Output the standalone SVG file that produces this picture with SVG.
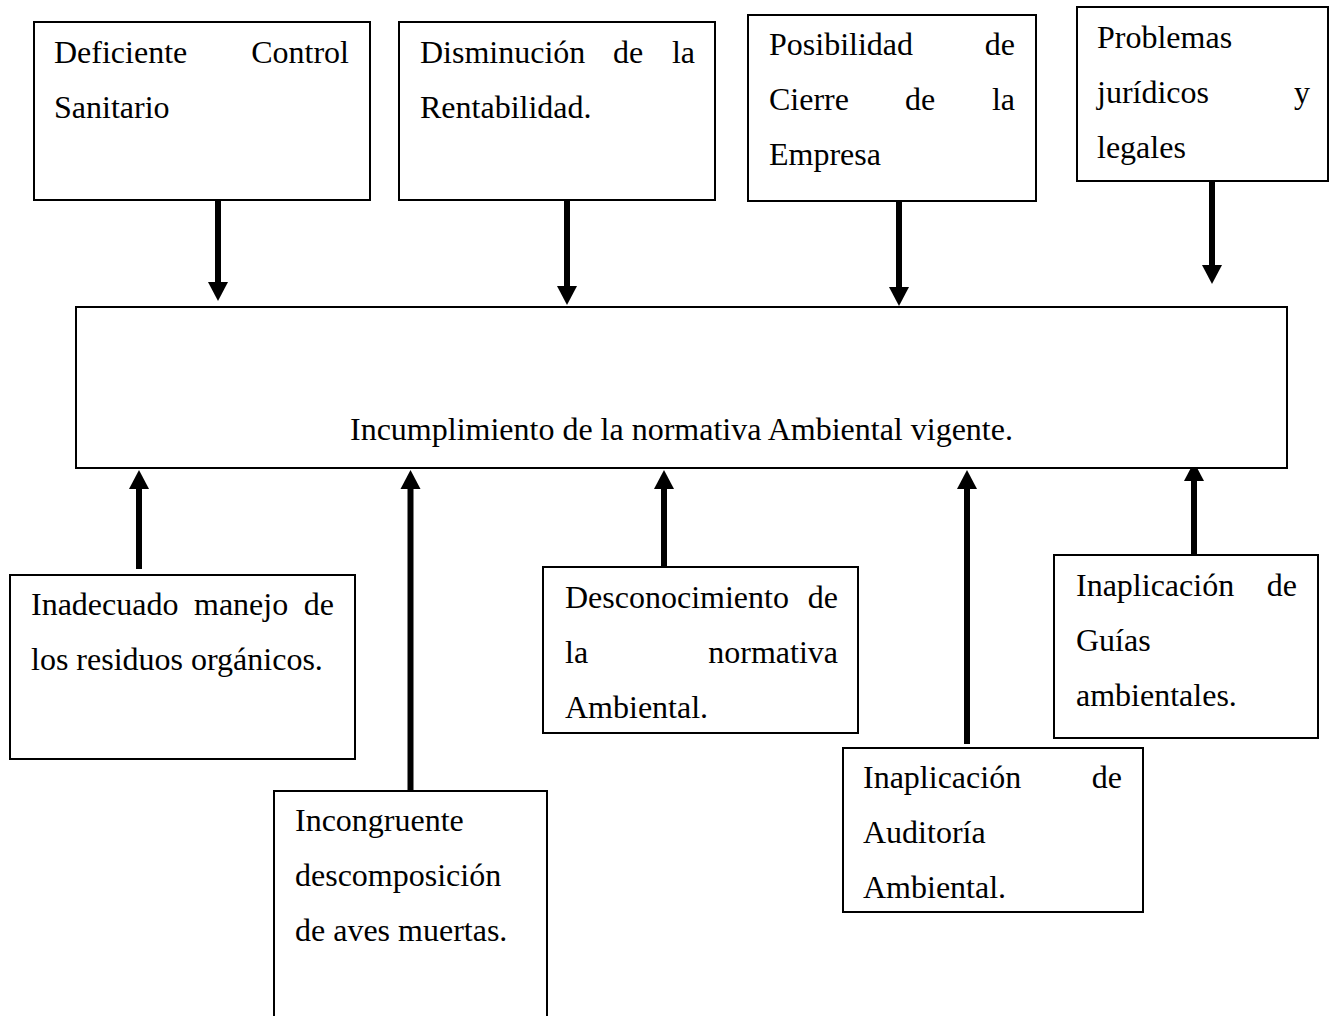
<svg xmlns="http://www.w3.org/2000/svg" width="1338" height="1016" viewBox="0 0 1338 1016">
<style>
.box{fill:#fff;stroke:#000;stroke-width:2}
.t{font-family:"Liberation Serif","Times New Roman",serif;font-size:32px;fill:#000}
.e{text-anchor:end}
.c{stroke:#000;stroke-width:6;fill:none}
</style>
<defs>
<marker id="ah" markerUnits="userSpaceOnUse" markerWidth="20" markerHeight="22" refX="0" refY="10" orient="auto" viewBox="0 0 20 20">
<path d="M0,0 L19,10 L0,20 Z" fill="#000"/>
</marker>
</defs>
<rect width="1338" height="1016" fill="#fff"/>
<g id="connectors">
<line class="c" x1="218" y1="200" x2="218" y2="282" marker-end="url(#ah)"/>
<line class="c" x1="567" y1="200" x2="567" y2="286" marker-end="url(#ah)"/>
<line class="c" x1="899" y1="201" x2="899" y2="287" marker-end="url(#ah)"/>
<line class="c" x1="1212" y1="181" x2="1212" y2="265" marker-end="url(#ah)"/>
<line class="c" x1="139" y1="569" x2="139" y2="489" marker-end="url(#ah)"/>
<line class="c" x1="410.5" y1="791" x2="410.5" y2="489" marker-end="url(#ah)"/>
<line class="c" x1="664" y1="567" x2="664" y2="489" marker-end="url(#ah)"/>
<line class="c" x1="967" y1="744" x2="967" y2="489" marker-end="url(#ah)"/>
<line class="c" x1="1194" y1="555" x2="1194" y2="481" marker-end="url(#ah)"/>
</g>
<g id="n1">
<rect class="box" x="34" y="22" width="336" height="178"/>
<text class="t" x="54" y="63">Deficiente</text><text class="t e" x="349" y="63">Control</text>
<text class="t" x="54" y="118">Sanitario</text>
</g>
<g id="n2">
<rect class="box" x="399" y="22" width="316" height="178"/>
<text class="t" x="420" y="63">Disminución</text><text class="t" x="613" y="63">de</text><text class="t e" x="695" y="63">la</text>
<text class="t" x="420" y="118">Rentabilidad.</text>
</g>
<g id="n3">
<rect class="box" x="748" y="15" width="288" height="186"/>
<text class="t" x="769" y="55">Posibilidad</text><text class="t e" x="1015" y="55">de</text>
<text class="t" x="769" y="110">Cierre</text><text class="t" x="905" y="110">de</text><text class="t e" x="1015" y="110">la</text>
<text class="t" x="769" y="165">Empresa</text>
</g>
<g id="n4">
<rect class="box" x="1077" y="7" width="251" height="174"/>
<text class="t" x="1097" y="48">Problemas</text>
<text class="t" x="1097" y="103">jurídicos</text><text class="t e" x="1310" y="103">y</text>
<text class="t" x="1097" y="158">legales</text>
</g>
<g id="main">
<rect class="box" x="76" y="307" width="1211" height="161"/>
<text class="t" x="350" y="440">Incumplimiento de la normativa Ambiental vigente.</text>
</g>
<g id="n5">
<rect class="box" x="10" y="575" width="345" height="184"/>
<text class="t" x="31" y="615">Inadecuado</text><text class="t" x="194" y="615">manejo</text><text class="t e" x="334" y="615">de</text>
<text class="t" x="31" y="670">los residuos orgánicos.</text>
</g>
<g id="n6">
<rect class="box" x="274" y="791" width="273" height="240"/>
<text class="t" x="295" y="831">Incongruente</text>
<text class="t" x="295" y="886">descomposición</text>
<text class="t" x="295" y="941">de aves muertas.</text>
</g>
<g id="n7">
<rect class="box" x="543" y="567" width="315" height="166"/>
<text class="t" x="565" y="608">Desconocimiento</text><text class="t e" x="838" y="608">de</text>
<text class="t" x="565" y="663">la</text><text class="t e" x="838" y="663">normativa</text>
<text class="t" x="565" y="718">Ambiental.</text>
</g>
<g id="n8">
<rect class="box" x="843" y="748" width="300" height="164"/>
<text class="t" x="863" y="788">Inaplicación</text><text class="t e" x="1122" y="788">de</text>
<text class="t" x="863" y="843">Auditoría</text>
<text class="t" x="863" y="898">Ambiental.</text>
</g>
<g id="n9">
<rect class="box" x="1054" y="555" width="264" height="183"/>
<text class="t" x="1076" y="596">Inaplicación</text><text class="t e" x="1297" y="596">de</text>
<text class="t" x="1076" y="651">Guías</text>
<text class="t" x="1076" y="706">ambientales.</text>
</g>
</svg>
